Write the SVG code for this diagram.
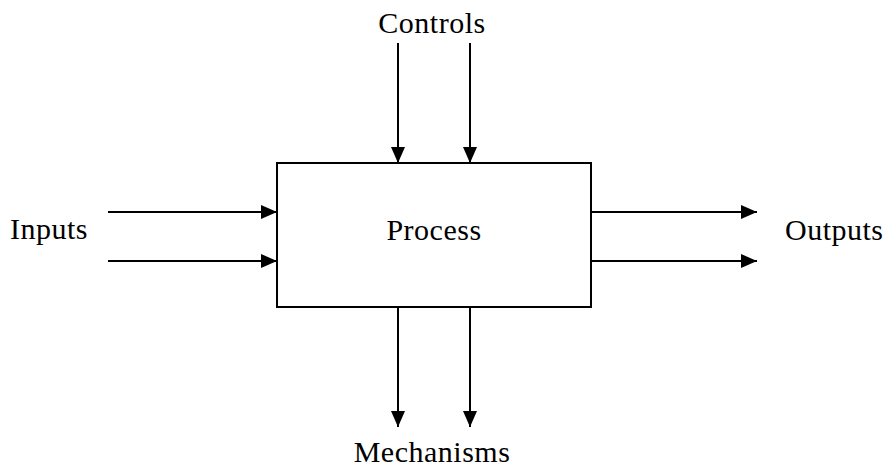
<svg xmlns="http://www.w3.org/2000/svg" width="885" height="470" viewBox="0 0 885 470">
<style>
text{font-family:"Liberation Serif","DejaVu Serif",serif;font-size:30px;fill:#000;letter-spacing:0.5px}
.c{stroke:#000;stroke-width:2;fill:none}
</style>
<defs>
<marker id="ah" markerUnits="userSpaceOnUse" markerWidth="18" markerHeight="16" refX="16" refY="7" orient="auto">
<path d="M0,0 L16,7 L0,14 Z" fill="#000"/>
</marker>
</defs>
<rect width="885" height="470" fill="#fff"/>
<g id="process">
<rect x="277" y="163" width="314" height="144" fill="#fff" stroke="#000" stroke-width="2"/>
<text x="434" y="240" text-anchor="middle">Process</text>
</g>
<g id="controls"><text x="432" y="33" text-anchor="middle">Controls</text></g>
<g id="inputs"><text x="10" y="239">Inputs</text></g>
<g id="outputs"><text x="785" y="240">Outputs</text></g>
<g id="mechanisms"><text x="432" y="462" text-anchor="middle">Mechanisms</text></g>
<g id="connectors">
<line class="c" x1="398" y1="43" x2="398" y2="163" marker-end="url(#ah)"/>
<line class="c" x1="470" y1="43" x2="470" y2="163" marker-end="url(#ah)"/>
<line class="c" x1="108" y1="212" x2="277" y2="212" marker-end="url(#ah)"/>
<line class="c" x1="108" y1="261" x2="277" y2="261" marker-end="url(#ah)"/>
<line class="c" x1="591" y1="212" x2="757" y2="212" marker-end="url(#ah)"/>
<line class="c" x1="591" y1="261" x2="757" y2="261" marker-end="url(#ah)"/>
<line class="c" x1="398" y1="307" x2="398" y2="427" marker-end="url(#ah)"/>
<line class="c" x1="470" y1="307" x2="470" y2="427" marker-end="url(#ah)"/>
</g>
</svg>
